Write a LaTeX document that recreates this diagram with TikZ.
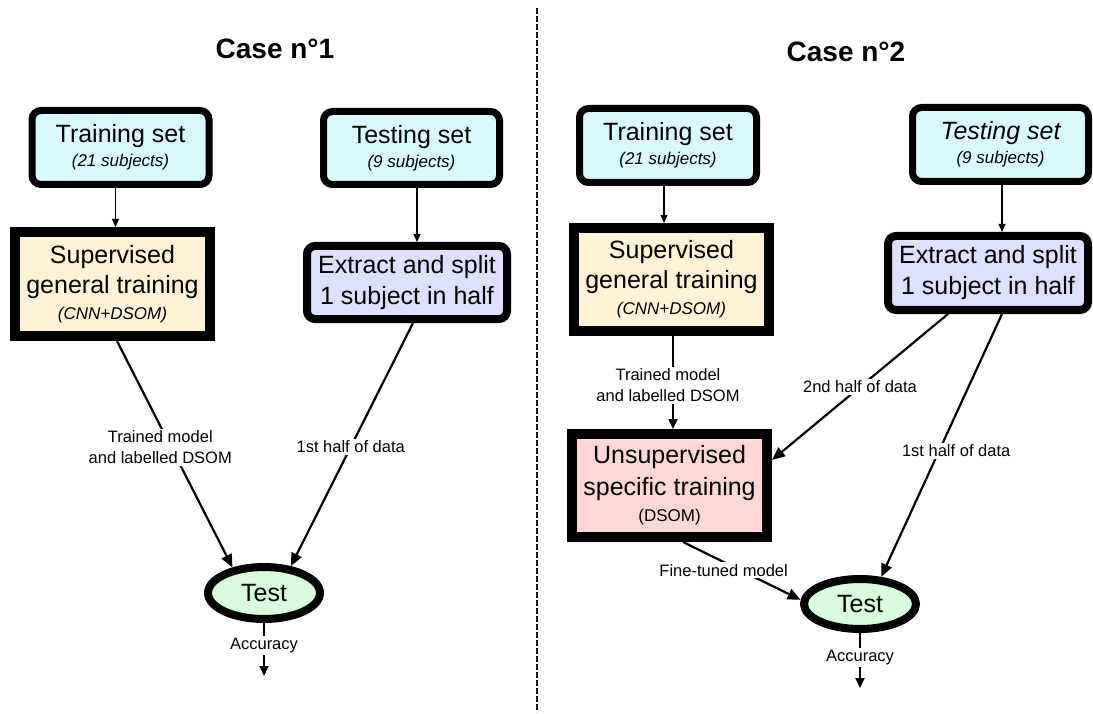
\documentclass[tikz,border=0pt]{standalone}
\usepackage{fontspec}
\setmainfont{Liberation Sans}
\usetikzlibrary{shapes.geometric,arrows.meta,calc}
\definecolor{setfill}{HTML}{D9F9FE}
\definecolor{supfill}{HTML}{FFF2D6}
\definecolor{splitfill}{HTML}{DDE0FF}
\definecolor{unsfill}{HTML}{FFD7D7}
\definecolor{testfill}{HTML}{D8FCDC}
\tikzset{
  setbox/.style={draw, line width=7pt, rounded corners=9pt, fill=setfill, align=center, inner sep=0pt,
    minimum width=177pt, minimum height=74pt, font=\fontsize{25}{24}\selectfont},
  trainbox/.style={draw, line width=10pt, fill=#1, align=center, inner sep=0pt,
    minimum width=195pt, minimum height=104pt},
  splitbox/.style={draw, line width=8pt, rounded corners=8pt, fill=splitfill, align=center, inner sep=0pt,
    minimum width=200pt, minimum height=73pt, font=\fontsize{25}{31}\selectfont},
  testnode/.style={ellipse, draw, line width=8pt, fill=testfill, inner sep=0pt,
    minimum width=112pt, minimum height=52pt, font=\fontsize{25}{30}\selectfont},
  casetitle/.style={font=\fontsize{28}{32}\selectfont\bfseries},
  thinarrow/.style={line width=1.3pt, -{Triangle[length=8pt,width=7pt]}},
  midarrow/.style={line width=1.8pt, -{Triangle[length=10pt,width=9pt]}},
  bigarrow/.style={line width=2.2pt, -{Triangle[length=13pt,width=11pt]}},
  elabel/.style={fill=white, inner sep=2pt, align=center, font=\fontsize{16.5}{21}\selectfont},
  sepline/.style={line width=1.5pt, dash pattern=on 6pt off 2pt}
}
\newcommand{\subtxt}{\fontsize{17}{20}\selectfont}
\begin{document}
\begin{tikzpicture}[x=1pt,y=-1pt]
\useasboundingbox (0,0) rectangle (1093,714);

% separator
\coordinate (septop) at (537,8);
\coordinate (sepbot) at (537,712);
\draw[sepline] (septop) -- (sepbot);

% ---------------- Case 1 ----------------
\node[casetitle] (c1) at (275,49) {Case n°1};

\node[setbox] (t1) at (120.5,147.5) {Training set\\{\subtxt\itshape (21 subjects)}};
\node[trainbox=supfill, font=\fontsize{25}{30}\selectfont] (s1) at (112.5,284)
  {Supervised\\general training\\[-4pt]{\subtxt\itshape (CNN+DSOM)}};
\node[setbox, minimum width=176pt, minimum height=73pt] (e1) at (411.5,148) {Testing set\\{\subtxt\itshape (9 subjects)}};
\node[splitbox] (x1) at (407,282.5) {Extract and split\\1 subject in half};
\node[testnode] (test1) at (264,593) {Test};
\coordinate (acc1) at ($(test1.south)+(0,53)$);

\draw[thinarrow] ([xshift=-5]t1.south) -- ([xshift=-5]t1.south |- s1.north);
\draw[thinarrow] ([xshift=5.5]e1.south) -- ([xshift=5.5]e1.south |- x1.north);
\draw[bigarrow] ([xshift=4.5]s1.south) -- node[elabel, pos=0.47, xshift=-11] (l1a) {Trained model\\and labelled DSOM} (test1.141);
\draw[bigarrow] ([xshift=6]x1.south) -- node[elabel, pos=0.51] (l1b) {1st half of data} (test1.45);
\draw[midarrow] (test1.south) -- node[elabel, pos=0.42] (l1c) {Accuracy} (acc1);

% ---------------- Case 2 ----------------
\node[casetitle] (c2) at (846,52) {Case n°2};

\node[setbox] (t2) at (668,145.5) {Training set\\{\subtxt\itshape (21 subjects)}};
\node[trainbox=supfill, minimum height=103pt, font=\fontsize{25}{30}\selectfont] (s2) at (671.5,279.5)
  {Supervised\\general training\\[-4pt]{\subtxt\itshape (CNN+DSOM)}};
\node[setbox, minimum width=176pt] (e2) at (1000.5,144.5) {{\itshape Testing set}\\{\subtxt\itshape (9 subjects)}};
\node[splitbox, minimum height=74pt] (x2) at (988,273) {Extract and split\\1 subject in half};
\node[trainbox=unsfill, minimum height=103pt, font=\fontsize{25}{32}\selectfont] (u2) at (669.5,485.5)
  {Unsupervised\\specific training\\[-6pt]{\subtxt (DSOM)}};
\node[testnode, minimum height=50pt] (test2) at (860,604) {Test};
\coordinate (acc2) at ($(test2.south)+(0,55)$);

\draw[thinarrow] ([xshift=-4]t2.south) -- ([xshift=-4]t2.south |- s2.north);
\draw[thinarrow] ([xshift=1.5]e2.south) -- ([xshift=1.5]e2.south |- x2.north);
\draw[midarrow] ([xshift=1.5]s2.south) -- node[elabel, pos=0.53, xshift=-5] (l2a) {Trained model\\and labelled DSOM} ([xshift=1.5]s2.south |- u2.north);
\draw[bigarrow] ([xshift=-40]x2.south) -- node[elabel, pos=0.5] (l2b) {2nd half of data} ([yshift=25.5]u2.east);
\draw[bigarrow] ([xshift=14]x2.south) -- node[elabel, pos=0.52, xshift=17] (l2c) {1st half of data} (test2.52);
\draw[bigarrow] ([xshift=13.5]u2.south) -- node[elabel, pos=0.49, xshift=-17] (l2d) {Fine-tuned model} (test2.176);
\draw[midarrow] (test2.south) -- node[elabel, pos=0.44] (l2e) {Accuracy} (acc2);
\end{tikzpicture}
\end{document}
